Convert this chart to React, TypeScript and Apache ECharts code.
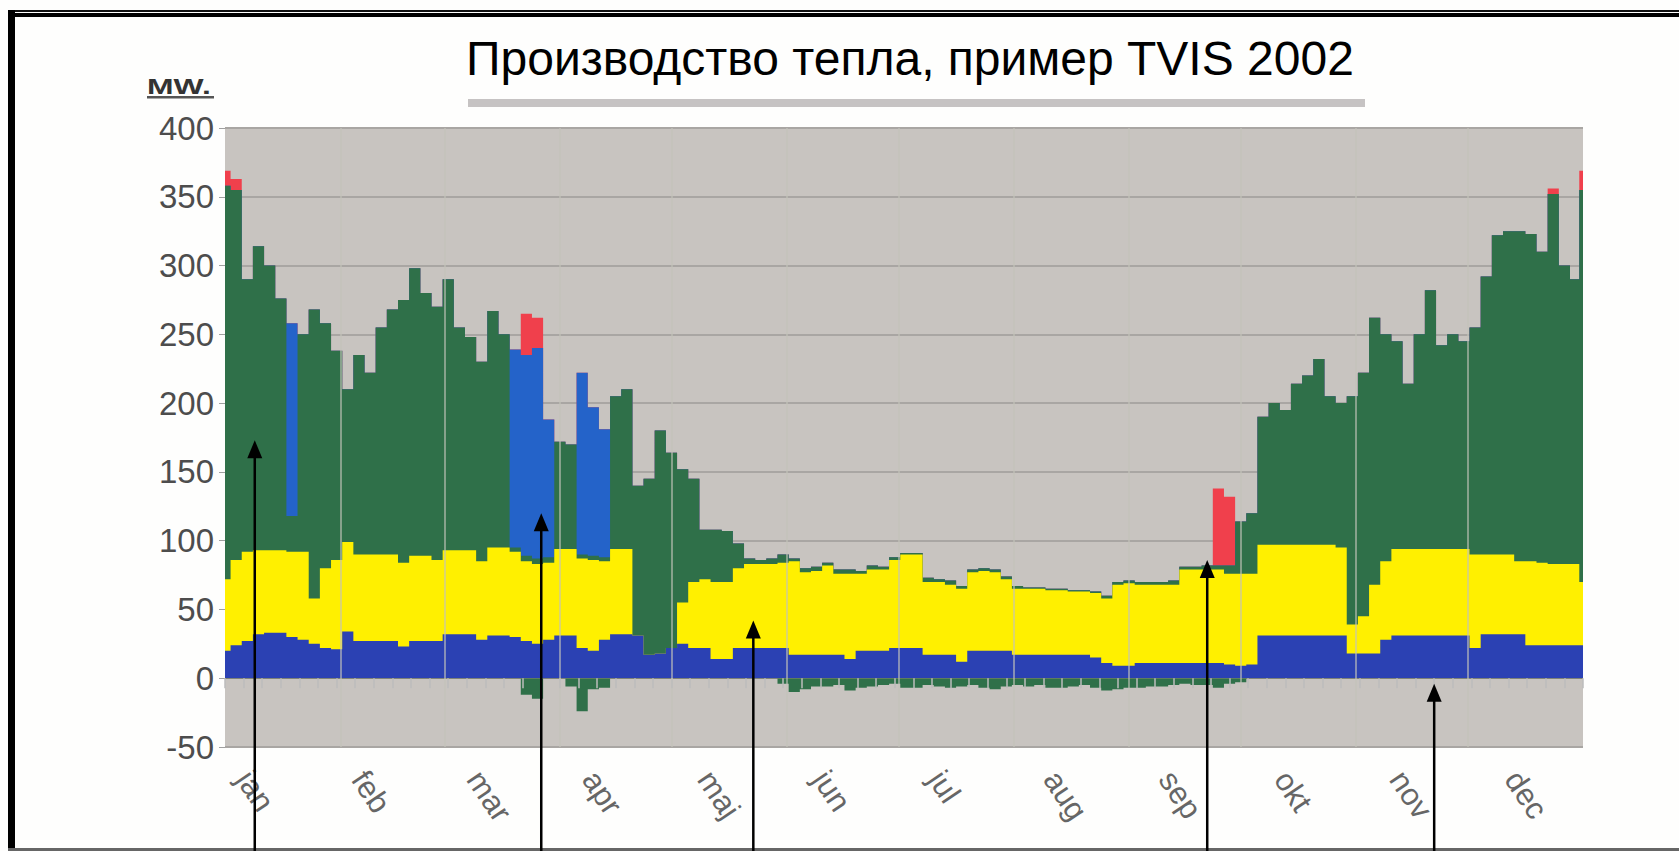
import React, { useEffect, useRef } from 'react';
import * as echarts from 'echarts';

const FONT = '"Liberation Sans", Arial, Helvetica, sans-serif';
const TITLE = 'Производство тепла, пример TVIS 2002';
const UNIT = 'MW.';
const monthNames = ['jan', 'feb', 'mar', 'apr', 'maj', 'jun', 'jul', 'aug', 'sep', 'okt', 'nov', 'dec'];
const monthDays = [31, 28, 31, 30, 31, 30, 31, 31, 30, 31, 30, 31];
const yMin = -50;
const yMax = 400;
const yStep = 50;

// sample grid: every third day of 2002, plus the year's end
const sampleDays = Array.from({ length: 122 }, (_, i) => i * 3).concat([365]);

// top of the dark-blue layer (MW)
const darkBlueTop = [
  20, 24, 27, 32, 33, 33, 30, 28, 25, 22,
  21, 34, 27, 27, 27, 27, 23, 27, 27, 27,
  32, 32, 32, 28, 31, 31, 30, 27, 25, 28,
  31, 31, 22, 20, 28, 32, 32, 31, 17, 18,
  22, 25, 22, 22, 14, 14, 22, 22, 22, 22,
  22, 17, 17, 17, 17, 17, 14, 20, 20, 20,
  22, 22, 22, 17, 17, 17, 12, 20, 20, 20,
  20, 17, 17, 17, 17, 17, 17, 17, 15, 11,
  9, 9, 11, 11, 11, 11, 11, 11, 11, 11,
  10, 9, 10, 31, 31, 31, 31, 31, 31, 31,
  31, 18, 18, 18, 28, 31, 31, 31, 31, 31,
  31, 31, 22, 32, 32, 32, 32, 24, 24, 24,
  24, 24, 24,
];

// top of the yellow layer (MW)
const yellowTop = [
  72, 86, 92, 93, 93, 93, 92, 92, 58, 80,
  86, 99, 90, 90, 90, 90, 84, 89, 89, 86,
  93, 93, 93, 85, 95, 95, 92, 85, 83, 84,
  94, 94, 87, 86, 85, 94, 94, 31, 17, 18,
  22, 55, 70, 72, 70, 70, 80, 83, 83, 83,
  84, 85, 77, 78, 82, 76, 76, 76, 79, 79,
  86, 90, 90, 70, 70, 68, 65, 77, 78, 77,
  72, 65, 65, 65, 64, 64, 63, 63, 62, 58,
  68, 69, 68, 68, 68, 68, 79, 79, 79, 79,
  76, 76, 76, 97, 97, 97, 97, 97, 97, 97,
  95, 39, 45, 68, 85, 94, 94, 94, 94, 94,
  94, 94, 90, 90, 90, 90, 85, 85, 84, 83,
  83, 83, 70,
];

// top of the green layer (MW)
const greenTop = [
  358, 355, 290, 314, 300, 276, 118, 250, 268, 258,
  238, 210, 235, 222, 255, 268, 275, 298, 280, 270,
  290, 255, 248, 230, 267, 250, 95, 89, 87, 88,
  172, 170, 90, 89, 88, 205, 210, 140, 145, 180,
  164, 152, 145, 108, 108, 107, 98, 87, 86, 87,
  90, 87, 80, 81, 84, 79, 79, 78, 82, 81,
  88, 91, 91, 73, 72, 71, 67, 79, 80, 79,
  74, 67, 66, 66, 65, 65, 64, 64, 63, 60,
  70, 71, 70, 70, 70, 71, 81, 81, 82, 82,
  82, 114, 120, 190, 200, 195, 214, 220, 232, 205,
  200, 205, 222, 262, 250, 245, 214, 250, 282, 242,
  250, 245, 255, 292, 322, 325, 325, 323, 310, 352,
  300, 290, 355,
];

// light-blue layer thickness by day (MW)
const lightBlueByDay: Record<number, number> = {
  18: 140, 78: 144, 81: 146, 84: 153, 87: 100, 96: 132, 99: 108, 102: 93,
};

// red (peak) layer thickness by day (MW)
const redByDay: Record<number, number> = {
  0: 11, 3: 8, 81: 30, 84: 22, 267: 56, 270: 50, 357: 4, 365: 14,
};

// green below zero by day (MW)
const greenNegByDay: Record<number, number> = {
  81: -12, 84: -15, 93: -6, 96: -24, 99: -8, 102: -7,
  150: -4, 153: -10, 156: -8, 159: -6, 162: -6, 165: -5, 168: -9, 171: -7,
  174: -6, 177: -5, 180: -4, 183: -7, 186: -7, 189: -5, 192: -6, 195: -7,
  198: -6, 201: -5, 204: -7, 207: -8, 210: -6, 213: -5, 216: -6, 219: -5,
  222: -7, 225: -7, 228: -6, 231: -5, 234: -7, 237: -9, 240: -8, 243: -7,
  246: -7, 249: -6, 252: -6, 255: -5, 258: -4, 261: -5, 264: -5, 267: -7,
  270: -4, 273: -3,
};

// annotation arrows: [day, value] the arrow tip points at
const arrowTargets = [
  [8, 173],
  [85, 120],
  [142, 42],
  [264, 86],
  [325, -4],
];

const C_GREEN = '#2f7049';
const C_YELLOW = '#fff000';
const C_BLUE = '#2b41b3';
const C_LBLUE = '#2463c9';
const C_RED = '#f0404c';

export default function App() {
  const ref = useRef<HTMLDivElement>(null);

  useEffect(() => {
    document.body.style.margin = '0';
    document.body.style.overflow = 'hidden';
    const chart = echarts.init(ref.current!, null, { renderer: 'svg' });

    const lbTop = greenTop.map((g, i) => g + (lightBlueByDay[sampleDays[i]] ?? 0));
    const redTop = lbTop.map((v, i) => v + (redByDay[sampleDays[i]] ?? 0));
    const negVals = sampleDays.map((d) => greenNegByDay[d] ?? 0);
    const pts = (arr: number[]) => sampleDays.map((d, i) => [d, arr[i]]);

    const categories = Array.from({ length: 366 }, (_, i) => String(i));
    const monthStarts: number[] = [];
    monthDays.reduce((acc, n, k) => {
      if (k > 0) monthStarts.push(acc);
      return acc + n;
    }, 0);
    const labelAt: Record<number, string> = {};
    monthNames.forEach((m, k) => {
      labelAt[5 + 31 * k] = m;
    });

    const area = (name: string, data: number[][], color: string) => ({
      type: 'line',
      name,
      data,
      step: 'middle',
      symbol: 'none',
      showSymbol: false,
      silent: true,
      lineStyle: { width: 0, opacity: 0 },
      areaStyle: { color, opacity: 1 },
      z: 2,
    });

    chart.setOption({
      animation: false,
      backgroundColor: '#fefefd',
      grid: {
        left: 225,
        top: 128,
        width: 1358,
        height: 619,
        show: true,
        backgroundColor: '#c8c4c0',
        borderWidth: 0,
      },
      xAxis: {
        type: 'category',
        data: categories,
        boundaryGap: false,
        z: 10,
        axisLine: { show: false },
        axisTick: {
          show: true,
          interval: (i: number) => i % 5 === 0,
          length: 10,
          lineStyle: { color: '#bdbdbd', width: 1.5 },
        },
        axisLabel: {
          interval: (i: number) => labelAt[i] !== undefined,
          formatter: (_v: string, i: number) => labelAt[i] ?? '',
          rotate: -56,
          color: '#666',
          fontSize: 31,
          fontFamily: FONT,
          margin: 27,
        },
        splitLine: {
          show: true,
          interval: (i: number) => monthStarts.includes(i),
          lineStyle: { color: 'rgba(195,195,185,0.6)', width: 2 },
        },
      },
      yAxis: {
        type: 'value',
        min: yMin,
        max: yMax,
        interval: yStep,
        axisLine: { show: false },
        axisTick: { show: true, length: 6, lineStyle: { color: '#a0a0a0' } },
        axisLabel: { color: '#4d4d4d', fontSize: 33, fontFamily: FONT, margin: 11 },
        splitLine: { lineStyle: { color: '#a9a6a3', width: 2 } },
      },
      series: [
        area('peak', pts(redTop), C_RED),
        area('reserve', pts(lbTop), C_LBLUE),
        area('boilers', pts(greenTop), C_GREEN),
        area('boilers-', pts(negVals), C_GREEN),
        area('waste', pts(yellowTop), C_YELLOW),
        area('base', pts(darkBlueTop), C_BLUE),
      ],
    });

    const arrows: any[] = [];
    arrowTargets.forEach(([d, v]) => {
      const p = chart.convertToPixel({ gridIndex: 0 }, [d, v]) as number[];
      const x = p[0];
      const y = p[1];
      arrows.push({
        type: 'line',
        z: 100,
        shape: { x1: x, y1: 851, x2: x, y2: y + 10 },
        style: { stroke: '#000', lineWidth: 2.5 },
      });
      arrows.push({
        type: 'polygon',
        z: 100,
        shape: { points: [[x, y], [x - 7.5, y + 18], [x + 7.5, y + 18]] },
        style: { fill: '#000' },
      });
    });

    chart.setOption({
      graphic: [
        { type: 'rect', z: 100, shape: { x: 8, y: 10, width: 1671, height: 2 }, style: { fill: '#111' } },
        { type: 'rect', z: 100, shape: { x: 8, y: 13, width: 1671, height: 4 }, style: { fill: '#000' } },
        { type: 'rect', z: 100, shape: { x: 8, y: 10, width: 7, height: 841 }, style: { fill: '#000' } },
        { type: 'rect', z: 100, shape: { x: 8, y: 848, width: 1671, height: 3 }, style: { fill: '#666' } },
        { type: 'rect', z: 100, shape: { x: 468, y: 99, width: 897, height: 8 }, style: { fill: '#c6c3c3' } },
        {
          type: 'text',
          z: 100,
          x: 466,
          y: 58,
          style: {
            text: TITLE,
            fontSize: 48,
            fontFamily: FONT,
            fill: '#000',
            align: 'left',
            textAlign: 'left',
            verticalAlign: 'middle',
            textVerticalAlign: 'middle',
          },
        },
        {
          type: 'text',
          z: 100,
          x: 147,
          y: 86,
          scaleX: 1.45,
          style: {
            text: UNIT,
            fontSize: 22,
            fontWeight: 'bold',
            fontFamily: FONT,
            fill: '#333',
            align: 'left',
            textAlign: 'left',
            verticalAlign: 'middle',
            textVerticalAlign: 'middle',
          },
        },
        { type: 'rect', z: 100, shape: { x: 147, y: 96, width: 67, height: 2.5 }, style: { fill: '#555' } },
        ...arrows,
      ],
    });

    return () => chart.dispose();
  }, []);

  return <div ref={ref} style={{ width: 1679, height: 851 }} />;
}
